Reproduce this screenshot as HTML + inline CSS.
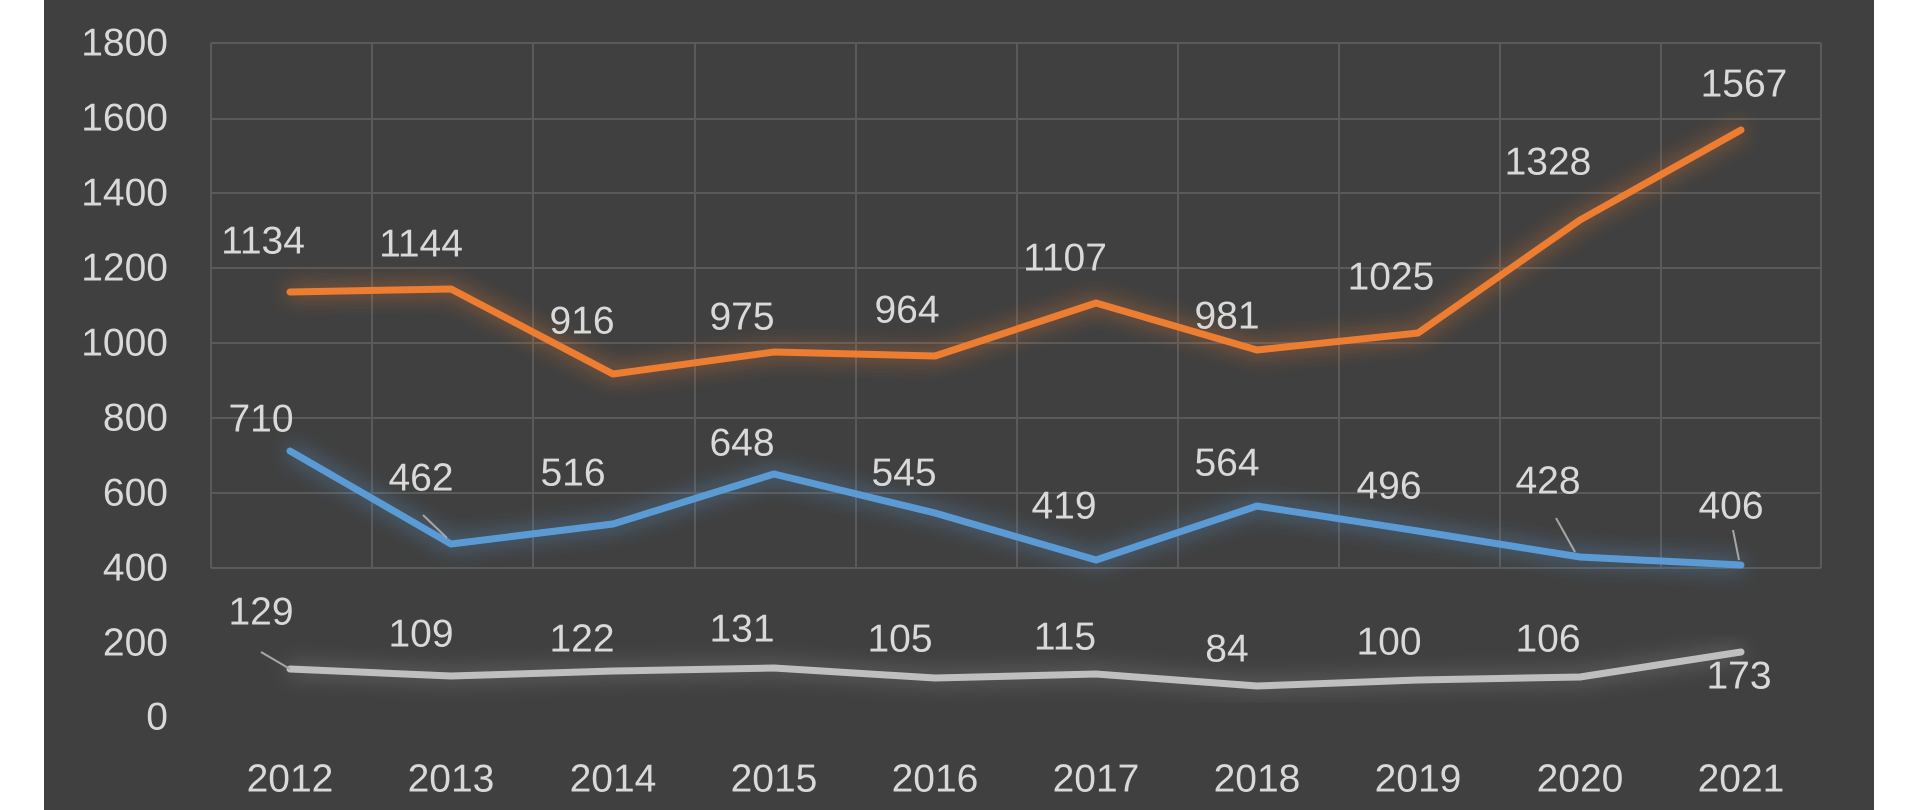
<!DOCTYPE html>
<html><head><meta charset="utf-8"><style>
html,body{margin:0;padding:0;background:#fff;}
svg{display:block;font-family:"Liberation Sans",sans-serif;}
</style></head><body>
<svg width="1920" height="810" viewBox="0 0 1920 810" xmlns="http://www.w3.org/2000/svg">
<defs>
<filter id="g" x="-20%" y="-50%" width="140%" height="200%"><feGaussianBlur stdDeviation="11"/></filter>
</defs>
<rect x="0" y="0" width="1920" height="810" fill="#ffffff"/>
<rect x="44" y="0" width="1830" height="810" fill="#404040"/>
<g stroke="#5a5a5a" stroke-width="2" fill="none">
<path d="M211 43H1821M211 119H1821M211 193H1821M211 268H1821M211 343H1821M211 418H1821M211 493H1821M211 568H1821"/>
<path d="M211 43V568M372 43V568M533 43V568M695 43V568M856 43V568M1017 43V568M1178 43V568M1339 43V568M1500 43V568M1661 43V568M1821 43V568"/>
</g>
<g fill="#d9d9d9" font-size="39" text-anchor="end" dominant-baseline="central">
<text x="168" y="43">1800</text><text x="168" y="118">1600</text><text x="168" y="193">1400</text><text x="168" y="268">1200</text><text x="168" y="343">1000</text><text x="168" y="418">800</text><text x="168" y="493">600</text><text x="168" y="568">400</text><text x="168" y="643">200</text><text x="168" y="717">0</text>
</g>
<g fill="#d9d9d9" font-size="39" text-anchor="middle" dominant-baseline="central">
<text x="290" y="779">2012</text><text x="451" y="779">2013</text><text x="613" y="779">2014</text><text x="774" y="779">2015</text><text x="935" y="779">2016</text><text x="1096" y="779">2017</text><text x="1257" y="779">2018</text><text x="1418" y="779">2019</text><text x="1580" y="779">2020</text><text x="1741" y="779">2021</text>
</g>
<g fill="none" stroke-width="7" stroke-linejoin="round" stroke-linecap="round">
<polyline filter="url(#g)" stroke="#ed7d31" opacity="0.8" points="290,292 451,289 613,374 774,352 935,356 1096,303 1257,350 1418,333 1580,220 1741,130"/>
<polyline filter="url(#g)" stroke="#5b9bd5" opacity="0.8" points="290,451 451,544 613,524 774,474 935,513 1096,560 1257,506 1418,531 1580,557 1741,565"/>
<polyline filter="url(#g)" stroke="#bfbfbf" opacity="0.5" points="290,669 451,676 613,671 774,668 935,678 1096,674 1257,686 1418,680 1580,677 1741,652"/>
<polyline stroke="#ed7d31" points="290,292 451,289 613,374 774,352 935,356 1096,303 1257,350 1418,333 1580,220 1741,130"/>
<polyline stroke="#5b9bd5" points="290,451 451,544 613,524 774,474 935,513 1096,560 1257,506 1418,531 1580,557 1741,565"/>
<polyline stroke="#bfbfbf" points="290,669 451,676 613,671 774,668 935,678 1096,674 1257,686 1418,680 1580,677 1741,652"/>
</g>
<g stroke="#a6a6a6" stroke-width="2" fill="none">
<path d="M261 652L290 669M423 515L447 538M1556 518L1575 552M1733 530L1739 560"/>
</g>
<g fill="#d9d9d9" font-size="39" text-anchor="middle" dominant-baseline="central">
<text x="263" y="241">1134</text><text x="421" y="244">1144</text><text x="582" y="321">916</text><text x="742" y="317">975</text><text x="907" y="310">964</text><text x="1065" y="258">1107</text><text x="1227" y="316">981</text><text x="1391" y="277">1025</text><text x="1548" y="162">1328</text><text x="1744" y="84">1567</text>
<text x="261" y="419">710</text><text x="421" y="478">462</text><text x="573" y="473">516</text><text x="742" y="443">648</text><text x="904" y="473">545</text><text x="1064" y="506">419</text><text x="1227" y="463">564</text><text x="1389" y="486">496</text><text x="1548" y="481">428</text><text x="1731" y="506">406</text>
<text x="261" y="612">129</text><text x="421" y="634">109</text><text x="582" y="639">122</text><text x="742" y="629">131</text><text x="900" y="639">105</text><text x="1065" y="637">115</text><text x="1227" y="649">84</text><text x="1389" y="642">100</text><text x="1548" y="639">106</text><text x="1739" y="676">173</text>
</g>
</svg>
</body></html>
